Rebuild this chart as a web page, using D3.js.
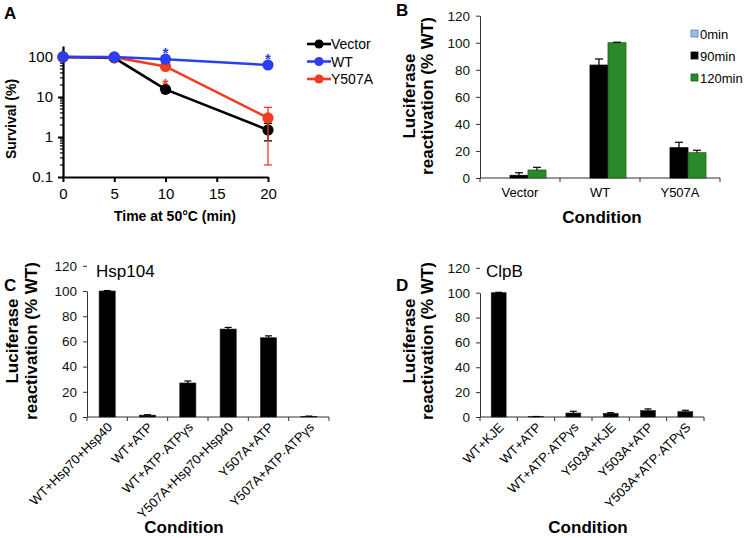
<!DOCTYPE html>
<html><head><meta charset="utf-8">
<script src="https://cdn.jsdelivr.net/npm/d3@7"></script>
<style>
html,body{margin:0;padding:0;background:#fff;}
svg{display:block;font-family:"Liberation Sans",Arial,Helvetica,sans-serif;}
</style></head>
<body>
<svg id="c" width="745" height="538"></svg>
<script>
// ---------- DATA ----------
// Panel A: survival (%) vs time at 50°C
const timesA = [0, 5, 10, 20];
const seriesA = ["Vector", "WT", "Y507A"];
const vectorVals = [100, 95, 15.5, 1.5];
const wtVals = [100, 100, 88, 63];
const y507aVals = [100, 98, 58, 3];
const vectorErrLo = [100, 95, 14.5, 0.8];
const vectorErrHi = [100, 95, 16.5, 2.2];
const wtErrLo = [100, 100, 82, 55];
const wtErrHi = [100, 100, 94, 72];
const y507aErrLo = [100, 98, 52, 0.2];
const y507aErrHi = [100, 98, 64, 5.5];
const ticksA_y = [0.1, 1, 10, 100];
const ticksA_x = [0, 5, 10, 15, 20];
const starsA = [{s: "WT", t: 10, pos: "above"}, {s: "WT", t: 20, pos: "above"}, {s: "Y507A", t: 10, pos: "below"}];

// Panel B: luciferase reactivation by strain and time
const catsB = ["Vector", "WT", "Y507A"];
const seriesB = ["0min", "90min", "120min"];
const b0min = [0, 0, 0];
const b90min = [2, 83.5, 22.4];
const b120min = [5.9, 100, 18.7];
const b90err = [1.9, 4.5, 4];
const b120err = [2, 0.4, 1.8];
const ticksBar = [0, 20, 40, 60, 80, 100, 120];

// Panel C: Hsp104
const catsC = ["WT+Hsp70+Hsp40", "WT+ATP", "WT+ATP·ATPγs", "Y507A+Hsp70+Hsp40", "Y507A+ATP", "Y507A+ATP·ATPγs"];
const valsC = [100, 1.5, 27, 69.8, 62.9, 0.5];
const errC = [0.3, 0.3, 1.6, 1.3, 1.5, 0.2];

// Panel D: ClpB
const catsD = ["WT+KJE", "WT+ATP", "WT+ATP·ATPγs", "Y503A+KJE", "Y503A+ATP", "Y503A+ATP·ATPγS"];
const valsD = [100, 0.3, 3.2, 3, 5.2, 4.3];
const errD = [0.3, 0.1, 1.4, 0.5, 1.3, 1.1];

// ---------- DRAW ----------
const svg = d3.select("#c");
const FONT = '"Liberation Sans",Arial,Helvetica,sans-serif';
const colA = {Vector: "#000000", WT: "#2b3ff2", Y507A: "#f23c20"};

function letter(t, x, y) {
  svg.append("text").attr("x", x).attr("y", y).attr("font-size", 17).attr("font-weight", "bold").text(t);
}

// ===== Panel A =====
letter("A", 4, 19);
{
  const x = d3.scaleLinear().domain([0, 20]).range([63, 268]);
  const y = d3.scaleLog().domain([0.1, 188]).range([177, 46]);
  const g = svg.append("g");
  const yAx = g.append("g").attr("transform", "translate(63,0)")
    .call(d3.axisLeft(y).tickValues(ticksA_y).tickFormat(d => d >= 1 ? d3.format("d")(d) : d).tickSize(5).tickSizeOuter(0));
  const minors = [];
  for (let dec = 0.1; dec < 100; dec *= 10) for (let k = 2; k <= 9; k++) minors.push(+(dec * k).toPrecision(3));
  g.selectAll("line.minor").data(minors).join("line")
    .attr("x1", 60).attr("x2", 63).attr("y1", d => y(d)).attr("y2", d => y(d))
    .attr("stroke", "#000").attr("stroke-width", 1.2);
  yAx.select(".domain").attr("stroke-width", 2.2);
  yAx.selectAll(".tick line").attr("stroke-width", 2);
  yAx.selectAll("text").attr("font-size", 15).attr("font-family", FONT).attr("fill", "#000").attr("dx", "-2");
  const xAx = g.append("g").attr("transform", "translate(0,177)")
    .call(d3.axisBottom(x).tickValues(ticksA_x).tickSize(5).tickSizeOuter(0));
  xAx.select(".domain").attr("stroke-width", 2.2);
  xAx.selectAll(".tick line").attr("stroke-width", 2);
  xAx.selectAll("text").attr("font-size", 15).attr("font-family", FONT).attr("fill", "#000").attr("dy", "0.95em");

  g.append("text").attr("transform", "translate(16,119) rotate(-90)").attr("text-anchor", "middle")
    .attr("font-size", 14).attr("font-weight", "bold").text("Survival (%)");
  g.append("text").attr("x", 175).attr("y", 221).attr("text-anchor", "middle")
    .attr("font-size", 14).attr("font-weight", "bold").text("Time at 50°C (min)");

  const dataA = {
    Vector: {v: vectorVals, lo: vectorErrLo, hi: vectorErrHi},
    WT: {v: wtVals, lo: wtErrLo, hi: wtErrHi},
    Y507A: {v: y507aVals, lo: y507aErrLo, hi: y507aErrHi}
  };
  const line = d3.line().x(d => x(d[0])).y(d => y(d[1]));
  ["Vector", "Y507A", "WT"].forEach(s => {
    const d = dataA[s];
    const pts = timesA.map((t, i) => [t, d.v[i]]);
    timesA.forEach((t, i) => {
      if (d.hi[i] === d.lo[i]) return;
      const cx = x(t);
      g.append("line").attr("x1", cx).attr("x2", cx).attr("y1", y(d.lo[i])).attr("y2", y(d.hi[i])).attr("stroke", colA[s]).attr("stroke-width", 1.3);
      [d.lo[i], d.hi[i]].forEach(v => g.append("line").attr("x1", cx - 4).attr("x2", cx + 4).attr("y1", y(v)).attr("y2", y(v)).attr("stroke", colA[s]).attr("stroke-width", 1.3));
    });
    g.append("path").datum(pts).attr("d", line).attr("fill", "none").attr("stroke", colA[s]).attr("stroke-width", 2.6);
    g.selectAll(null).data(pts).join("circle").attr("cx", p => x(p[0])).attr("cy", p => y(p[1])).attr("r", 5.6).attr("fill", colA[s]);
  });
  starsA.forEach(st => {
    const i = timesA.indexOf(st.t);
    const v = dataA[st.s].v[i];
    g.append("text").attr("x", x(st.t)).attr("y", y(v) + (st.pos === "above" ? -1 : 23)).attr("text-anchor", "middle")
      .attr("font-size", 15).attr("font-weight", "bold").attr("fill", colA[st.s]).text("*");
  });
  const lg = svg.append("g");
  seriesA.forEach((s, i) => {
    const yy = 44 + i * 17.5;
    lg.append("line").attr("x1", 307).attr("x2", 331).attr("y1", yy).attr("y2", yy).attr("stroke", colA[s]).attr("stroke-width", 2.6);
    lg.append("circle").attr("cx", 319).attr("cy", yy).attr("r", 4.6).attr("fill", colA[s]);
    lg.append("text").attr("x", 331).attr("y", yy + 5).attr("font-size", 14).text(s);
  });
}

// ===== bar helper =====
function barAxes(g, x, y, x0, x1, yBottom) {
  const yAx = g.append("g").attr("transform", `translate(${x0},0)`)
    .call(d3.axisLeft(y).tickValues(ticksBar).tickSize(4).tickSizeOuter(0));
  yAx.select(".domain").attr("stroke", "#333");
  yAx.selectAll(".tick line").attr("stroke", "#333");
  yAx.selectAll("text").attr("font-size", 13.5).attr("font-family", FONT).attr("fill", "#111").attr("dx", "-3");
  g.append("line").attr("x1", x0).attr("x2", x1).attr("y1", yBottom).attr("y2", yBottom).attr("stroke", "#333").attr("stroke-width", 1.2);
  const bounds = x.domain().map(c => x(c)).concat([x1]);
  g.selectAll(null).data(bounds).join("line").attr("x1", d => d).attr("x2", d => d).attr("y1", yBottom).attr("y2", yBottom + 4).attr("stroke", "#333");
}
function yTitle(x1, x2, cy) {
  svg.append("text").attr("transform", `translate(${x1},${cy}) rotate(-90)`).attr("text-anchor", "middle")
    .attr("font-size", 17).attr("font-weight", "bold").text("Luciferase");
  svg.append("text").attr("transform", `translate(${x2},${cy}) rotate(-90)`).attr("text-anchor", "middle")
    .attr("font-size", 17).attr("font-weight", "bold").text("reactivation (% WT)");
}
function errBar(g, cx, yTop, yErr, half) {
  g.append("line").attr("x1", cx).attr("x2", cx).attr("y1", yTop).attr("y2", yErr).attr("stroke", "#000").attr("stroke-width", 1.2);
  g.append("line").attr("x1", cx - half).attr("x2", cx + half).attr("y1", yErr).attr("y2", yErr).attr("stroke", "#000").attr("stroke-width", 1.2);
}

// ===== Panel B =====
letter("B", 396, 16);
{
  const g = svg.append("g");
  const x = d3.scaleBand().domain(catsB).range([480, 720]).padding(0);
  const xs = d3.scaleBand().domain(seriesB).range([12, 66]).padding(0);
  const y = d3.scaleLinear().domain([0, 120]).range([178, 15.7]);
  const colB = {"0min": "#9dbde6", "90min": "#000000", "120min": "#2a8a2a"};
  const strokeB = {"0min": "#5a7fb0", "90min": "#000", "120min": "#1b5e1b"};
  const valsB = {"0min": b0min, "90min": b90min, "120min": b120min};
  const errsB = {"0min": [0, 0, 0], "90min": b90err, "120min": b120err};
  barAxes(g, x, y, 480, 720, 178);
  seriesB.forEach(s => {
    catsB.forEach((c, i) => {
      const v = valsB[s][i];
      if (v <= 0) return;
      const bx = x(c) + xs(s);
      g.append("rect").attr("x", bx).attr("y", y(v)).attr("width", xs.bandwidth()).attr("height", y(0) - y(v))
        .attr("fill", colB[s]).attr("stroke", strokeB[s]).attr("stroke-width", 0.8);
      if (errsB[s][i] > 0) errBar(g, bx + xs.bandwidth() / 2, y(v), y(v + errsB[s][i]), 4);
    });
  });
  g.selectAll(null).data(catsB).join("text").attr("x", d => x(d) + x.bandwidth() / 2).attr("y", 197)
    .attr("text-anchor", "middle").attr("font-size", 13).text(d => d);
  svg.append("text").attr("x", 602).attr("y", 223).attr("text-anchor", "middle").attr("font-size", 17).attr("font-weight", "bold").text("Condition");
  yTitle(415, 433, 96);
  seriesB.forEach((s, i) => {
    const yy = 34 + i * 22;
    svg.append("rect").attr("x", 691).attr("y", yy - 4).attr("width", 7).attr("height", 7).attr("fill", colB[s]).attr("stroke", strokeB[s]).attr("stroke-width", 0.8);
    svg.append("text").attr("x", 700).attr("y", yy + 5).attr("font-size", 13).text(s);
  });
}

// ===== Panel C & D =====
function panelCat(letterT, lx, cats, vals, errs, x0, x1, yTop100, title, tx, yTitleX1, yTitleX2, condX) {
  letter(letterT, lx, 291);
  const g = svg.append("g");
  const x = d3.scaleBand().domain(cats).range([x0, x1]).padding(0);
  const y = d3.scaleLinear().domain([0, 100]).range([417, yTop100]);
  barAxes(g, x, y, x0, x1, 417);
  const bw = x.bandwidth() * 0.4;
  cats.forEach((c, i) => {
    const cx = x(c) + x.bandwidth() / 2;
    const v = vals[i];
    g.append("rect").attr("x", cx - bw / 2).attr("y", y(v)).attr("width", bw).attr("height", y(0) - y(v)).attr("fill", "#000").attr("stroke", "#222").attr("stroke-width", 0.6);
    errBar(g, cx, y(v), y(v + errs[i]), 3.5);
  });
  g.selectAll(null).data(cats).join("text")
    .attr("transform", d => `translate(${x(d) + x.bandwidth() / 2 + 6},${428}) rotate(-45)`)
    .attr("text-anchor", "end").attr("font-size", 13).text(d => d);
  svg.append("text").attr("x", tx).attr("y", 277).attr("font-size", 17).text(title);
  svg.append("text").attr("x", condX).attr("y", 533).attr("text-anchor", "middle").attr("font-size", 17).attr("font-weight", "bold").text("Condition");
  yTitle(yTitleX1, yTitleX2, 341);
}
panelCat("C", 4, catsC, valsC, errC, 87, 329, 291, "Hsp104", 96, 18, 37, 184);
panelCat("D", 396, catsD, valsD, errD, 480, 704, 292.7, "ClpB", 486, 415, 433, 588);
</script>
</body></html>
